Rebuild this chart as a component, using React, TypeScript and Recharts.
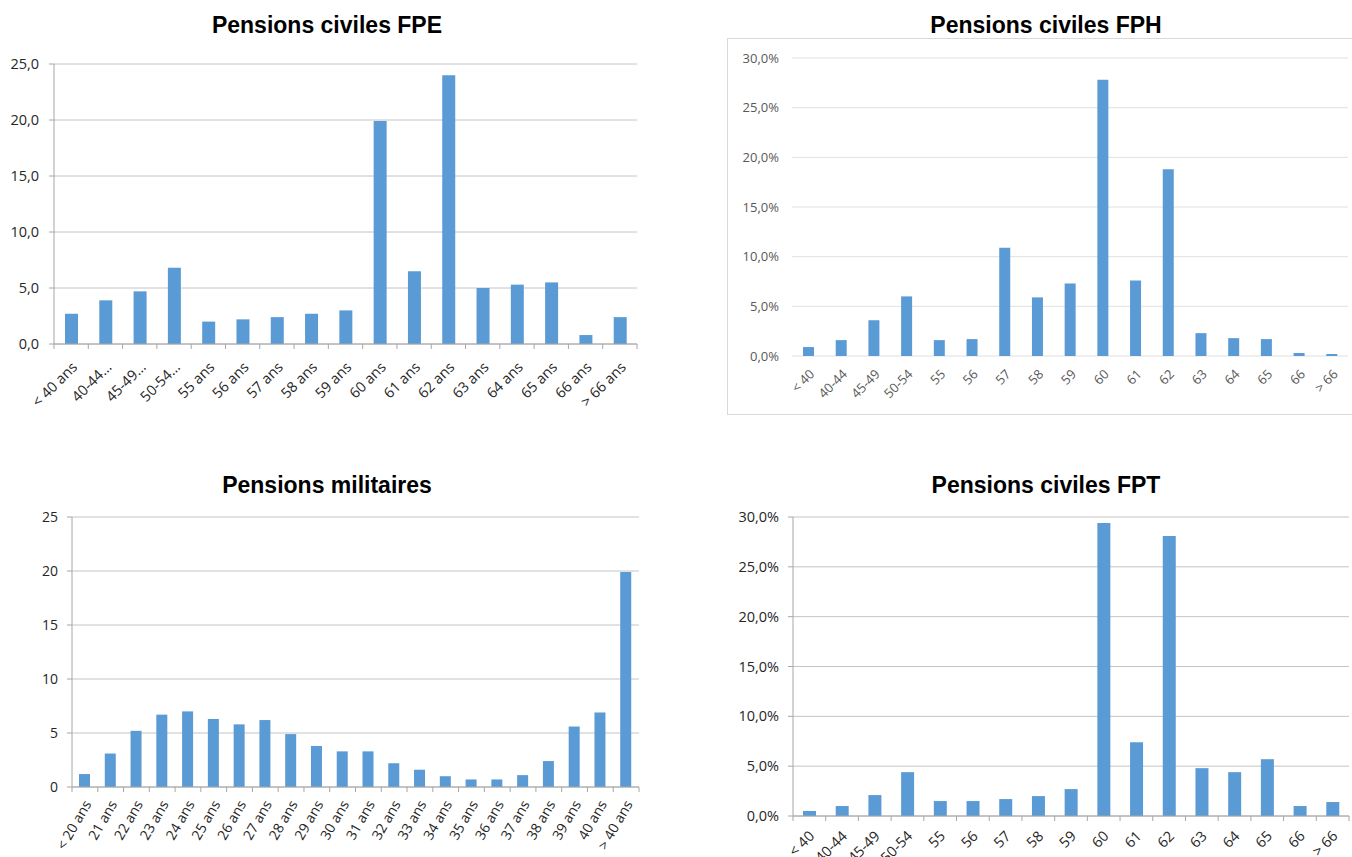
import { BarChart, Bar, XAxis, YAxis, CartesianGrid } from 'recharts'

// tranches d'âge
const FPE_LABELS = ['< 40 ans', '40-44…', '45-49…', '50-54…', '55 ans', '56 ans', '57 ans', '58 ans', '59 ans', '60 ans', '61 ans', '62 ans', '63 ans', '64 ans', '65 ans', '66 ans', '> 66 ans']
const SHORT_LABELS = ['< 40', '40-44', '45-49', '50-54', '55', '56', '57', '58', '59', '60', '61', '62', '63', '64', '65', '66', '> 66']
const MIL_LABELS = ['< 20 ans', '21 ans', '22 ans', '23 ans', '24 ans', '25 ans', '26 ans', '27 ans', '28 ans', '29 ans', '30 ans', '31 ans', '32 ans', '33 ans', '34 ans', '35 ans', '36 ans', '37 ans', '38 ans', '39 ans', '40 ans', '> 40 ans']

// valeurs
const FPE_VALUES = [2.7, 3.9, 4.7, 6.8, 2.0, 2.2, 2.4, 2.7, 3.0, 19.9, 6.5, 24.0, 5.0, 5.3, 5.5, 0.8, 2.4]
const FPH_VALUES = [0.9, 1.6, 3.6, 6.0, 1.6, 1.7, 10.9, 5.9, 7.3, 27.8, 7.6, 18.8, 2.3, 1.8, 1.7, 0.3, 0.2]
const MIL_VALUES = [1.2, 3.1, 5.2, 6.7, 7.0, 6.3, 5.8, 6.2, 4.9, 3.8, 3.3, 3.3, 2.2, 1.6, 1.0, 0.7, 0.7, 1.1, 2.4, 5.6, 6.9, 19.9]
const FPT_VALUES = [0.5, 1.0, 2.1, 4.4, 1.5, 1.5, 1.7, 2.0, 2.7, 29.4, 7.4, 28.1, 4.8, 4.4, 5.7, 1.0, 1.4]

const FPE_TICKS = [0, 5, 10, 15, 20, 25]
const MIL_TICKS = [0, 5, 10, 15, 20, 25]
const PCT_TICKS = [0, 5, 10, 15, 20, 25, 30]

const BAR = '#5B9BD5'
const FONT = '"Open Sans", sans-serif'
const AXIS = '#a6a6a6'

const toRows = (labels: string[], values: number[]) => labels.map((label, i) => ({ label, value: values[i] }))
const oneDec = (v: number) => v.toFixed(1).replace('.', ',')
const pct = (v: number) => `${oneDec(v)}%`
const plain = (v: number) => String(v)

function SlantTick(props: any) {
  const { x = 0, y = 0, payload, index, count, angle, dx, dy, size, color, mark, band } = props
  const half = band / 2
  const tx = x + dx
  const ty = y + dy
  return (
    <g>
      {mark && <line x1={x - half} x2={x - half} y1={y} y2={y + 5} stroke={mark} />}
      {mark && index === count - 1 && <line x1={x + half} x2={x + half} y1={y} y2={y + 5} stroke={mark} />}
      <text x={tx} y={ty} transform={`rotate(${angle} ${tx} ${ty})`} textAnchor="end" fontSize={size} fill={color} fontFamily={FONT}>
        {payload.value}
      </text>
    </g>
  )
}

interface PanelProps {
  left: number
  top: number
  width: number
  height: number
  labels: string[]
  values: number[]
  ticks: number[]
  format: (v: number) => string
  yWidth: number
  plotTop: number
  plotBottom: number
  marginRight: number
  barSize: number
  angle: number
  dx: number
  dy: number
  labelSize: number
  labelColor: string
  gridColor: string
  axisColor?: string
  tickMargin: number
}

function Panel(p: PanelProps) {
  const data = toRows(p.labels, p.values)
  const plotWidth = p.width - p.yWidth - p.marginRight
  const band = plotWidth / data.length
  const xHeight = p.height - p.plotBottom
  return (
    <div style={{ position: 'absolute', left: p.left, top: p.top }}>
      <BarChart
        width={p.width}
        height={p.height}
        data={data}
        margin={{ top: p.plotTop, right: p.marginRight, bottom: 0, left: 0 }}
        barCategoryGap={0}
      >
        <CartesianGrid vertical={false} stroke={p.gridColor} />
        <XAxis
          dataKey="label"
          interval={0}
          height={xHeight}
          tickSize={0}
          tickMargin={0}
          axisLine={p.axisColor ? { stroke: p.axisColor } : false}
          tick={(t: any) => (
            <SlantTick
              {...t}
              count={data.length}
              angle={p.angle}
              dx={p.dx}
              dy={p.dy}
              size={p.labelSize}
              color={p.labelColor}
              mark={p.axisColor}
              band={band}
            />
          )}
        />
        <YAxis
          width={p.yWidth}
          domain={[p.ticks[0], p.ticks[p.ticks.length - 1]]}
          ticks={p.ticks}
          tickFormatter={p.format}
          axisLine={p.axisColor ? { stroke: p.axisColor } : false}
          tickLine={p.axisColor ? { stroke: p.axisColor } : false}
          tickSize={p.axisColor ? 5 : 0}
          tickMargin={p.tickMargin}
          tick={{ fontSize: p.labelSize, fill: p.labelColor, fontFamily: FONT }}
        />
        <Bar dataKey="value" fill={BAR} barSize={p.barSize} isAnimationActive={false} />
      </BarChart>
    </div>
  )
}

function Title({ text, center, top }: { text: string; center: number; top: number }) {
  return (
    <div
      style={{
        position: 'absolute',
        left: center - 200,
        width: 400,
        top,
        textAlign: 'center',
        fontFamily: '"Liberation Sans", Arial, sans-serif',
        fontWeight: 'bold',
        fontSize: 23,
        lineHeight: '23px',
        color: '#000',
      }}
    >
      {text}
    </div>
  )
}

export default function App() {
  return (
    <div style={{ position: 'absolute', left: 0, top: 0, width: 1352, height: 857, background: '#fff', overflow: 'hidden' }}>
      <Title text="Pensions civiles FPE" center={327} top={14} />
      <Panel
        left={0}
        top={0}
        width={680}
        height={440}
        labels={FPE_LABELS}
        values={FPE_VALUES}
        ticks={FPE_TICKS}
        format={oneDec}
        yWidth={54}
        plotTop={64}
        plotBottom={344}
        marginRight={43}
        barSize={13}
        angle={-45}
        dx={7}
        dy={24}
        labelSize={14.5}
        labelColor="#262626"
        gridColor="#c4c4c4"
        axisColor={AXIS}
        tickMargin={10}
      />

      <div style={{ position: 'absolute', left: 727, top: 38, width: 640, height: 377, border: '1px solid #d9d9d9', boxSizing: 'border-box' }} />
      <Title text="Pensions civiles FPH" center={1046} top={14} />
      <Panel
        left={727}
        top={38}
        width={625}
        height={378}
        labels={SHORT_LABELS}
        values={FPH_VALUES}
        ticks={PCT_TICKS}
        format={pct}
        yWidth={65}
        plotTop={20}
        plotBottom={318}
        marginRight={4}
        barSize={11}
        angle={-45}
        dx={7}
        dy={19}
        labelSize={13}
        labelColor="#595959"
        gridColor="#e0e0e0"
        tickMargin={13}
      />

      <Title text="Pensions militaires" center={327} top={474} />
      <Panel
        left={0}
        top={460}
        width={680}
        height={397}
        labels={MIL_LABELS}
        values={MIL_VALUES}
        ticks={MIL_TICKS}
        format={plain}
        yWidth={72}
        plotTop={57}
        plotBottom={327}
        marginRight={41}
        barSize={11}
        angle={-60}
        dx={7}
        dy={17}
        labelSize={14}
        labelColor="#262626"
        gridColor="#c4c4c4"
        axisColor={AXIS}
        tickMargin={9}
      />

      <Title text="Pensions civiles FPT" center={1046} top={474} />
      <Panel
        left={700}
        top={460}
        width={652}
        height={397}
        labels={SHORT_LABELS}
        values={FPT_VALUES}
        ticks={PCT_TICKS}
        format={pct}
        yWidth={93}
        plotTop={57}
        plotBottom={356}
        marginRight={3}
        barSize={13}
        angle={-45}
        dx={6}
        dy={21}
        labelSize={14.5}
        labelColor="#262626"
        gridColor="#c4c4c4"
        axisColor={AXIS}
        tickMargin={9}
      />
    </div>
  )
}
